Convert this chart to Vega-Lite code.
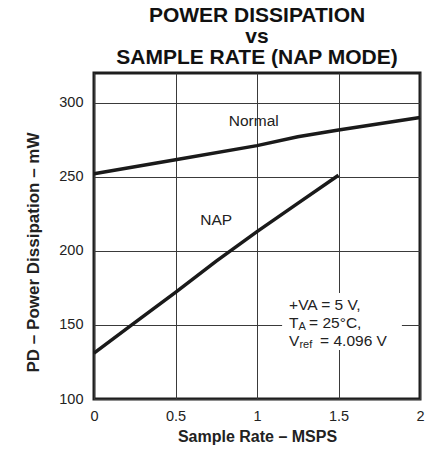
{
  "$schema": "https://vega.github.io/schema/vega-lite/v6.json",
  "autosize": "none",
  "width": 326,
  "height": 326,
  "padding": {"left": 94, "top": 73, "right": 18, "bottom": 54},
  "background": "white",
  "config": {
    "font": "Liberation Sans",
    "view": {"stroke": "#1e1e1e", "strokeWidth": 3},
    "axis": {
      "domain": false,
      "ticks": false,
      "grid": true,
      "gridColor": "#3a3a3a",
      "gridWidth": 1,
      "gridOpacity": 1,
      "labelFont": "Liberation Sans",
      "labelFontSize": 14.5,
      "labelColor": "#222",
      "titleFont": "Liberation Sans",
      "titleFontSize": 16,
      "titleFontWeight": "bold",
      "titleColor": "#222"
    }
  },
  "title": {
    "text": ["POWER DISSIPATION", "vs", "SAMPLE RATE (NAP MODE)"],
    "font": "Liberation Sans",
    "fontSize": 21,
    "fontWeight": "bold",
    "lineHeight": 21,
    "color": "#111",
    "anchor": "middle",
    "offset": 5
  },
  "datasets": {
    "curves": [
      {"series": "Normal", "rate": 0, "pd": 252},
      {"series": "Normal", "rate": 0.5, "pd": 261.5},
      {"series": "Normal", "rate": 1, "pd": 271},
      {"series": "Normal", "rate": 1.25, "pd": 277},
      {"series": "Normal", "rate": 1.5, "pd": 281.5},
      {"series": "Normal", "rate": 2, "pd": 290},
      {"series": "NAP", "rate": 0, "pd": 131},
      {"series": "NAP", "rate": 0.25, "pd": 151.5},
      {"series": "NAP", "rate": 0.5, "pd": 172},
      {"series": "NAP", "rate": 0.75, "pd": 193},
      {"series": "NAP", "rate": 1, "pd": 213},
      {"series": "NAP", "rate": 1.25, "pd": 232},
      {"series": "NAP", "rate": 1.5, "pd": 251}
    ],
    "labels": [
      {"text": "Normal", "rate": 0.98, "pd": 287.5},
      {"text": "NAP", "rate": 0.75, "pd": 220.5}
    ],
    "box": [
      {"rate": 1.154, "rate2": 1.889, "pd": 133, "pd2": 171.5}
    ],
    "notes": [
      {"part": "main", "text": "+VA = 5 V,", "rate": 1.197, "pd": 163.4},
      {"part": "main", "text": "T", "rate": 1.197, "pd": 151},
      {"part": "main", "text": "V", "rate": 1.197, "pd": 139},
      {"part": "subA", "text": "A", "rate": 1.197, "pd": 151},
      {"part": "subRef", "text": "ref", "rate": 1.197, "pd": 139},
      {"part": "restT", "text": "= 25°C,", "rate": 1.197, "pd": 151},
      {"part": "restV", "text": "= 4.096 V", "rate": 1.197, "pd": 139}
    ]
  },
  "encoding": {
    "x": {
      "field": "rate",
      "type": "quantitative",
      "scale": {"domain": [0, 2], "nice": false},
      "axis": {"values": [0, 0.5, 1, 1.5, 2], "format": "~g", "title": "Sample Rate – MSPS", "labelPadding": 10, "titlePadding": 6, "labelFlush": false}
    },
    "y": {
      "field": "pd",
      "type": "quantitative",
      "scale": {"domain": [100, 320], "nice": false, "zero": false},
      "axis": {"values": [100, 150, 200, 250, 300], "title": "PD – Power Dissipation – mW", "titleFontSize": 17, "titleY": 179, "labelPadding": 11, "titlePadding": 16}
    }
  },
  "layer": [
    {
      "data": {"name": "box"},
      "mark": {"type": "rect", "fill": "white", "stroke": null},
      "encoding": {
        "x2": {"field": "rate2"},
        "y2": {"field": "pd2"}
      }
    },
    {
      "data": {"name": "curves"},
      "mark": {"type": "line", "color": "#1a1a1a", "strokeWidth": 3.5},
      "encoding": {
        "detail": {"field": "series", "type": "nominal"}
      }
    },
    {
      "data": {"name": "labels"},
      "mark": {"type": "text", "fontSize": 15.5, "color": "#222", "align": "center", "baseline": "middle"},
      "encoding": {"text": {"field": "text"}}
    },
    {
      "data": {"name": "notes"},
      "transform": [{"filter": "datum.part == 'main'"}],
      "mark": {"type": "text", "fontSize": 15.5, "color": "#222", "align": "left", "baseline": "middle"},
      "encoding": {"text": {"field": "text"}}
    },
    {
      "data": {"name": "notes"},
      "transform": [{"filter": "datum.part == 'subA'"}],
      "mark": {"type": "text", "fontSize": 11, "color": "#222", "align": "left", "baseline": "middle", "dx": 9.5, "dy": 4},
      "encoding": {"text": {"field": "text"}}
    },
    {
      "data": {"name": "notes"},
      "transform": [{"filter": "datum.part == 'subRef'"}],
      "mark": {"type": "text", "fontSize": 11, "color": "#222", "align": "left", "baseline": "middle", "dx": 10.3, "dy": 4},
      "encoding": {"text": {"field": "text"}}
    },
    {
      "data": {"name": "notes"},
      "transform": [{"filter": "datum.part == 'restT'"}],
      "mark": {"type": "text", "fontSize": 15.5, "color": "#222", "align": "left", "baseline": "middle", "dx": 20},
      "encoding": {"text": {"field": "text"}}
    },
    {
      "data": {"name": "notes"},
      "transform": [{"filter": "datum.part == 'restV'"}],
      "mark": {"type": "text", "fontSize": 15.5, "color": "#222", "align": "left", "baseline": "middle", "dx": 31},
      "encoding": {"text": {"field": "text"}}
    }
  ]
}
